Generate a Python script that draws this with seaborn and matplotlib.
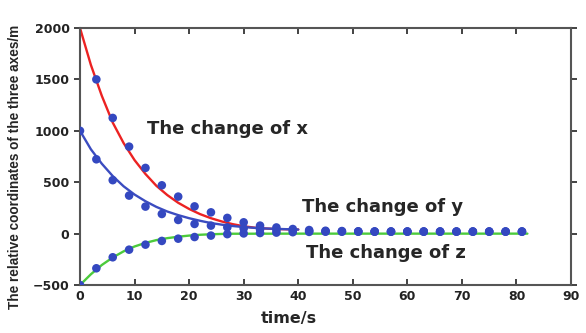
import numpy as np
import pandas as pd
import matplotlib
matplotlib.use("Agg")
import matplotlib.pyplot as plt
import seaborn as sns

# fitted curves
t_curve = [0, 2, 4, 6, 8, 10, 12, 14, 16, 18, 20, 22, 24, 26, 28, 30, 32, 34, 36, 38, 40]
x_curve = [2000, 1640, 1340, 1080, 880, 715, 580, 465, 375, 300, 240, 190, 150, 118, 92, 72, 58, 50, 45, 42, 40]
y_curve = [1000, 820, 680, 560, 460, 380, 315, 260, 215, 180, 150, 125, 103, 87, 74, 64, 56, 50, 46, 43, 40]
t_curve_z = [0, 2, 4, 6, 8, 10, 12, 14, 16, 18, 20, 22, 24, 26, 28, 40, 60, 82]
z_curve = [-500, -395, -305, -232, -172, -125, -90, -63, -44, -30, -19, -11, -6, -3, -1, 0, 0, 0]

# measured points
t_pts = [0, 3, 6, 9, 12, 15, 18, 21, 24, 27, 30, 33, 36, 39, 42, 45, 48, 51, 54, 57,
         60, 63, 66, 69, 72, 75, 78, 81]
x_pts = [np.nan, 1500, 1125, 846, 639, 470, 360, 265, 207, 153, 110, 78, 60, 45, 35, 28,
         25, 22, 20, 20, 20, 20, 20, 20, 20, 20, 20, 20]
y_pts = [1000, 723, 520, 370, 263, 191, 133, 94, 78, 61, 50, 42, 35, 30, 25, 22,
         20, 20, 20, 20, 20, 20, 20, 20, 20, 20, 20, 20]
z_pts = [-500, -337, -230, -156, -107, -71, -49, -33, -19, -5, 2, 6, 10, 14, 17, 19,
         20, 20, 20, 20, 20, 20, 20, 20, 20, 20, 20, 20]

x_ticks = [0, 10, 20, 30, 40, 50, 60, 70, 80, 90]
y_ticks = [-500, 0, 500, 1000, 1500, 2000]

sns.set_theme(style="ticks")
plt.rcParams["font.family"] = ["DejaVu Sans"]

fig = plt.figure(figsize=(5.86, 3.33), dpi=100)
ax = fig.add_axes([0.1365, 0.144, 0.838, 0.772])

sns.lineplot(x=t_curve, y=x_curve, color="#ec2222", lw=1.7, ax=ax)
sns.lineplot(x=t_curve, y=y_curve, color="#3b4cc0", lw=1.7, ax=ax)
sns.lineplot(x=t_curve_z, y=z_curve, color="#4ccb3c", lw=1.7, ax=ax)

pts = pd.DataFrame({
    "t": t_pts * 3,
    "v": x_pts + y_pts + z_pts,
}).dropna()
sns.scatterplot(data=pts, x="t", y="v", color="#3448c0", marker="o", s=38,
                edgecolor="none", ax=ax, zorder=5)

ax.set_xlim(0, 90)
ax.set_ylim(-500, 2000)
ax.set_xticks(x_ticks)
ax.set_yticks(y_ticks)
ax.tick_params(axis="both", labelsize=9, width=1.2, length=4, colors="#222222")
ax.tick_params(axis="y", direction="out", right=True)
ax.tick_params(axis="x", direction="in", top=True)
for lab in ax.get_xticklabels() + ax.get_yticklabels():
    lab.set_fontweight("bold")
for sp in ax.spines.values():
    sp.set_visible(True)
    sp.set_color("#555555")
    sp.set_linewidth(1.5)

ax.set_xlabel("time/s", fontsize=11.5, fontweight="bold")
ax.xaxis.set_label_coords(0.426, -0.1)
ax.set_ylabel("The relative coordinates of the three axes/m", fontsize=9.8,
              fontweight="bold", family="Liberation Sans")
ax.yaxis.set_label_coords(-0.118, 0.46)

ax.text(12.3, 1021, "The change of x", fontsize=13, fontweight="bold", va="center")
ax.text(40.6, 256, "The change of y", fontsize=13, fontweight="bold", va="center")
ax.text(41.5, -192, "The change of z", fontsize=13, fontweight="bold", va="center")

fig.savefig("out.png", dpi=100)
